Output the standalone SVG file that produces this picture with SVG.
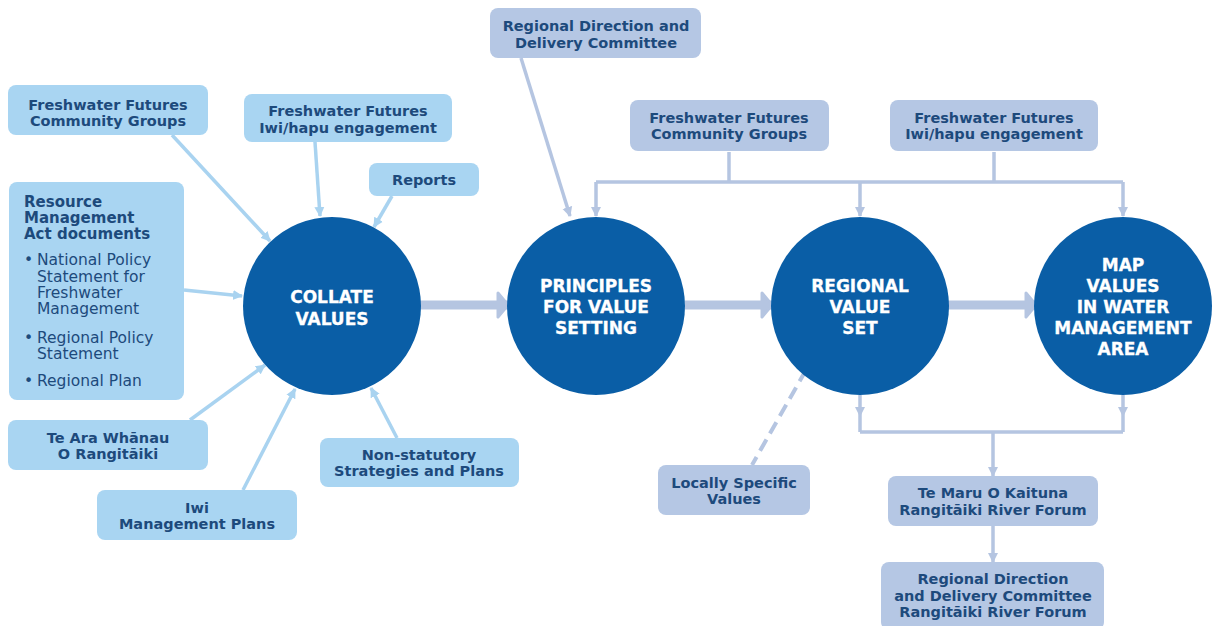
<svg xmlns="http://www.w3.org/2000/svg" width="1220" height="626" viewBox="0 0 1220 626">
  <style>
    .hub { fill: #0a5ea6; }
    .hub-label { font-family: "DejaVu Sans", "Liberation Sans", sans-serif; font-weight: bold; font-size: 17px; fill: #ffffff; text-anchor: middle; stroke: #ffffff; stroke-width: 0.3; }
    .src { fill: #a9d5f2; }
    .dst { fill: #b5c7e4; }
    .box-label { font-family: "DejaVu Sans", "Liberation Sans", sans-serif; font-weight: bold; font-size: 14.5px; fill: #1d4a7c; text-anchor: middle; }
    .rma-title { font-family: "DejaVu Sans", "Liberation Sans", sans-serif; font-weight: bold; font-size: 15px; fill: #1d4a7c; }
    .rma-item { font-family: "DejaVu Sans", "Liberation Sans", sans-serif; font-size: 15.5px; fill: #1d4a7c; }
    .feed { stroke: #a9d3f0; stroke-width: 3.5; fill: none; marker-end: url(#head-light); }
    .link { stroke: #b5c5e1; stroke-width: 3.5; fill: none; }
    .link-arrow { marker-end: url(#head-grey); }
    .flow { stroke: #b5c5e1; stroke-width: 9; fill: none; marker-end: url(#head-flow); }
    .dashed { stroke: #b5c5e1; stroke-width: 4; fill: none; stroke-dasharray: 13 7; }
  </style>
  <defs>
    <marker id="head-light" viewBox="0 0 10 10" refX="9" refY="5" markerWidth="10" markerHeight="11" markerUnits="userSpaceOnUse" orient="auto">
      <path d="M0,0 L10,5 L0,10 z" fill="#a9d3f0"/>
    </marker>
    <marker id="head-grey" viewBox="0 0 10 10" refX="9" refY="5" markerWidth="10" markerHeight="12" markerUnits="userSpaceOnUse" orient="auto">
      <path d="M0,0 L10,5 L0,10 z" fill="#b5c5e1"/>
    </marker>
    <marker id="head-mid" viewBox="0 0 10 10" refX="5" refY="5" markerWidth="10" markerHeight="12" markerUnits="userSpaceOnUse" orient="auto">
      <path d="M0,0 L10,5 L0,10 z" fill="#b5c5e1"/>
    </marker>
    <marker id="head-flow" viewBox="0 0 14 28" refX="12" refY="14" markerWidth="14" markerHeight="28" markerUnits="userSpaceOnUse" orient="auto">
      <path d="M2,2 L12,14 L2,26 z" fill="#b5c5e1" stroke="#b5c5e1" stroke-width="3" stroke-linejoin="round"/>
    </marker>
  </defs>

  <rect width="1220" height="626" fill="#ffffff"/>

  <!-- connectors -->
  <g id="connectors">
    <!-- inputs gathered into the collation step -->
    <line class="feed" x1="172" y1="135" x2="270" y2="241"/>
    <line class="feed" x1="315" y1="142" x2="320" y2="216"/>
    <line class="feed" x1="392" y1="196" x2="374" y2="227"/>
    <line class="feed" x1="184" y1="290" x2="242" y2="296"/>
    <line class="feed" x1="190" y1="420" x2="265" y2="365"/>
    <line class="feed" x1="243" y1="490" x2="295" y2="389"/>
    <line class="feed" x1="397" y1="438" x2="371" y2="388"/>

    <!-- main process flow -->
    <line class="flow" x1="420" y1="305" x2="508" y2="305"/>
    <line class="flow" x1="685" y1="305" x2="772" y2="305"/>
    <line class="flow" x1="948" y1="305" x2="1036" y2="305"/>

    <!-- committee input -->
    <line class="link link-arrow" x1="521" y1="58" x2="570" y2="216"/>

    <!-- engagement bus above the circles -->
    <path class="link" d="M729,152 V182 M994,152 V182 M596,182 H1123"/>
    <line class="link link-arrow" x1="596" y1="182" x2="596" y2="216"/>
    <line class="link link-arrow" x1="860" y1="182" x2="860" y2="216"/>
    <line class="link link-arrow" x1="1123" y1="182" x2="1123" y2="216"/>

    <!-- forum bus below the circles -->
    <path class="link" d="M860,395 L860,412 L860,432" marker-mid="url(#head-mid)"/>
    <path class="link" d="M1123,395 L1123,412 L1123,432" marker-mid="url(#head-mid)"/>
    <path class="link" d="M860,432 H1123"/>
    <line class="link link-arrow" x1="993" y1="432" x2="993" y2="476"/>
    <line class="link link-arrow" x1="993" y1="526" x2="993" y2="562"/>

    <!-- local values link -->
    <line class="dashed" x1="806" y1="370" x2="752" y2="465"/>
  </g>

  <!-- process circles -->
  <g id="collate-values">
    <circle class="hub" cx="332" cy="306" r="89"/>
    <text class="hub-label" x="332" y="303">COLLATE</text>
    <text class="hub-label" x="332" y="325">VALUES</text>
  </g>
  <g id="principles">
    <circle class="hub" cx="596" cy="306" r="89"/>
    <text class="hub-label" x="596" y="292">PRINCIPLES</text>
    <text class="hub-label" x="596" y="313">FOR VALUE</text>
    <text class="hub-label" x="596" y="334">SETTING</text>
  </g>
  <g id="regional-value-set">
    <circle class="hub" cx="860" cy="306" r="89"/>
    <text class="hub-label" x="860" y="292">REGIONAL</text>
    <text class="hub-label" x="860" y="313">VALUE</text>
    <text class="hub-label" x="860" y="334">SET</text>
  </g>
  <g id="map-values">
    <circle class="hub" cx="1123" cy="306" r="89"/>
    <text class="hub-label" x="1123" y="271">MAP</text>
    <text class="hub-label" x="1123" y="292">VALUES</text>
    <text class="hub-label" x="1123" y="313">IN WATER</text>
    <text class="hub-label" x="1123" y="334">MANAGEMENT</text>
    <text class="hub-label" x="1123" y="355">AREA</text>
  </g>

  <!-- input sources -->
  <g id="ff-community-left">
    <rect class="src" x="8" y="85" width="200" height="50" rx="8"/>
    <text class="box-label" x="108" y="110">Freshwater Futures</text>
    <text class="box-label" x="108" y="126">Community Groups</text>
  </g>
  <g id="ff-iwi-left">
    <rect class="src" x="244" y="94" width="208" height="48" rx="8"/>
    <text class="box-label" x="348" y="116">Freshwater Futures</text>
    <text class="box-label" x="348" y="133">Iwi/hapu engagement</text>
  </g>
  <g id="reports">
    <rect class="src" x="369" y="163" width="110" height="33" rx="8"/>
    <text class="box-label" x="424" y="185">Reports</text>
  </g>
  <g id="rma-documents">
    <rect class="src" x="9" y="182" width="175" height="218" rx="8"/>
    <text class="rma-title" x="24" y="207">Resource</text>
    <text class="rma-title" x="24" y="223">Management</text>
    <text class="rma-title" x="24" y="239">Act documents</text>
    <text class="rma-item" x="24" y="265">•</text>
    <text class="rma-item" x="37" y="265">National Policy</text>
    <text class="rma-item" x="37" y="282">Statement for</text>
    <text class="rma-item" x="37" y="298">Freshwater</text>
    <text class="rma-item" x="37" y="314">Management</text>
    <text class="rma-item" x="24" y="343">•</text>
    <text class="rma-item" x="37" y="343">Regional Policy</text>
    <text class="rma-item" x="37" y="359">Statement</text>
    <text class="rma-item" x="24" y="386">•</text>
    <text class="rma-item" x="37" y="386">Regional Plan</text>
  </g>
  <g id="te-ara-whanau">
    <rect class="src" x="8" y="420" width="200" height="50" rx="8"/>
    <text class="box-label" x="108" y="443">Te Ara Whānau</text>
    <text class="box-label" x="108" y="459">O Rangitāiki</text>
  </g>
  <g id="iwi-management-plans">
    <rect class="src" x="97" y="490" width="200" height="50" rx="8"/>
    <text class="box-label" x="197" y="513">Iwi</text>
    <text class="box-label" x="197" y="529">Management Plans</text>
  </g>
  <g id="non-statutory">
    <rect class="src" x="320" y="438" width="199" height="49" rx="8"/>
    <text class="box-label" x="419" y="460">Non-statutory</text>
    <text class="box-label" x="419" y="476">Strategies and Plans</text>
  </g>

  <!-- governance and engagement -->
  <g id="rddc-top">
    <rect class="dst" x="490" y="8" width="211" height="50" rx="8"/>
    <text class="box-label" x="596" y="31">Regional Direction and</text>
    <text class="box-label" x="596" y="48">Delivery Committee</text>
  </g>
  <g id="ff-community-right">
    <rect class="dst" x="630" y="100" width="199" height="51" rx="8"/>
    <text class="box-label" x="729" y="123">Freshwater Futures</text>
    <text class="box-label" x="729" y="139">Community Groups</text>
  </g>
  <g id="ff-iwi-right">
    <rect class="dst" x="890" y="100" width="208" height="51" rx="8"/>
    <text class="box-label" x="994" y="123">Freshwater Futures</text>
    <text class="box-label" x="994" y="139">Iwi/hapu engagement</text>
  </g>
  <g id="locally-specific">
    <rect class="dst" x="658" y="465" width="152" height="50" rx="8"/>
    <text class="box-label" x="734" y="488">Locally Specific</text>
    <text class="box-label" x="734" y="504">Values</text>
  </g>
  <g id="te-maru-o-kaituna">
    <rect class="dst" x="888" y="476" width="210" height="50" rx="8"/>
    <text class="box-label" x="993" y="498">Te Maru O Kaituna</text>
    <text class="box-label" x="993" y="515">Rangitāiki River Forum</text>
  </g>
  <g id="rddc-bottom">
    <rect class="dst" x="881" y="562" width="223" height="68" rx="8"/>
    <text class="box-label" x="993" y="584">Regional Direction</text>
    <text class="box-label" x="993" y="601">and Delivery Committee</text>
    <text class="box-label" x="993" y="617">Rangitāiki River Forum</text>
  </g>
</svg>
